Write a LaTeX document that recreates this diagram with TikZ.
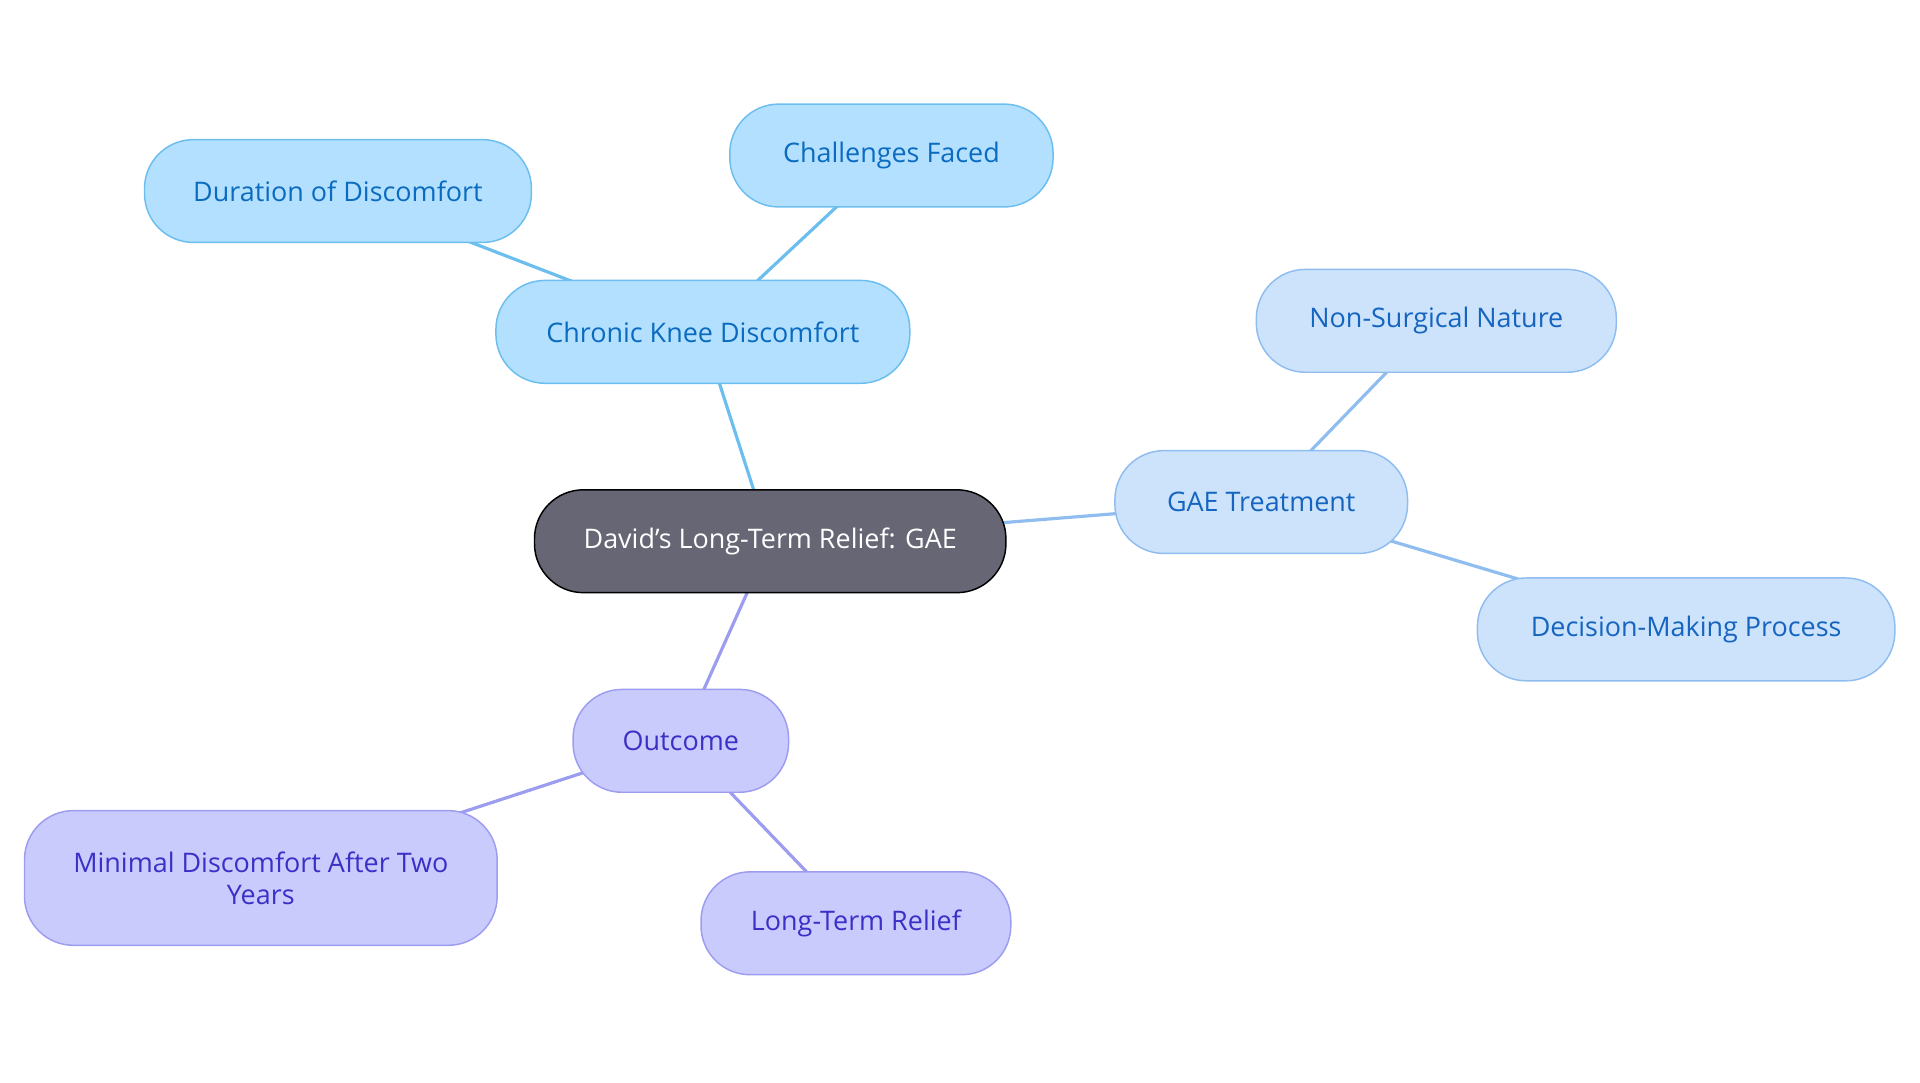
\documentclass[tikz,border=0pt]{standalone}
\usepackage{fontspec}
\setmainfont{Open Sans}
\usetikzlibrary{backgrounds}
\definecolor{bluefill}{HTML}{B3E0FF}
\definecolor{blueline}{HTML}{6CBEEF}
\definecolor{bluetext}{HTML}{0A6BBF}
\definecolor{gaefill}{HTML}{CCE3FB}
\definecolor{gaeline}{HTML}{90BDF0}
\definecolor{gaetext}{HTML}{1565C0}
\definecolor{purpfill}{HTML}{CACBFD}
\definecolor{purpline}{HTML}{9C9CF0}
\definecolor{purptext}{HTML}{3A2FC6}
\tikzset{
  topic/.style={rounded corners=20pt,minimum height=42pt,font=\fontsize{11}{13}\selectfont,align=center,line width=0.6pt},
  blue/.style={topic,fill=bluefill,draw=blueline,text=bluetext},
  gae/.style={topic,fill=gaefill,draw=gaeline,text=gaetext},
  purp/.style={topic,fill=purpfill,draw=purpline,text=purptext},
  link/.style={line width=1.3pt}
}
\begin{document}
\begin{tikzpicture}[x=0.5pt,y=-0.5pt]
\useasboundingbox (0,0) rectangle (1568,884);
\node [topic,fill=black!90!blue!60,draw=black,text=white,minimum width=192.5pt] (root) at (629,442) {David's Long-Term Relief: GAE};
% first branch
\node [blue,minimum width=169pt] (knee) at (574,271) {Chronic Knee Discomfort};
\node [blue,minimum width=158pt] (dur) at (276,156) {Duration of Discomfort};
\node [blue,minimum width=132pt] (chal) at (728,127) {Challenges Faced};
% second branch
\node [gae,minimum width=119.5pt] (gaet) at (1030,410) {GAE Treatment};
\node [gae,minimum width=147pt] (nons) at (1173,262) {Non-Surgical Nature};
\node [gae,minimum width=170.5pt] (dec) at (1377,514) {Decision-Making Process};
% third branch
\node [purp,minimum width=88pt] (out) at (556,605) {Outcome};
\node [purp,minimum width=193pt,minimum height=55pt] (mini) at (213,717) {Minimal Discomfort After Two\\Years};
\node [purp,minimum width=126.5pt] (ltr) at (699,754) {Long-Term Relief};
\begin{scope}[on background layer]
\draw [link,blueline] (root.center) -- (knee.center);
\draw [link,blueline] (knee.center) -- (dur.center);
\draw [link,blueline] (knee.center) -- (chal.center);
\draw [link,gaeline] (root.center) -- (gaet.center);
\draw [link,gaeline] (gaet.center) -- (nons.center);
\draw [link,gaeline] (gaet.center) -- (dec.center);
\draw [link,purpline] (root.center) -- (out.center);
\draw [link,purpline] (out.center) -- (mini.center);
\draw [link,purpline] (out.center) -- (ltr.center);
\end{scope}
\end{tikzpicture}
\end{document}
